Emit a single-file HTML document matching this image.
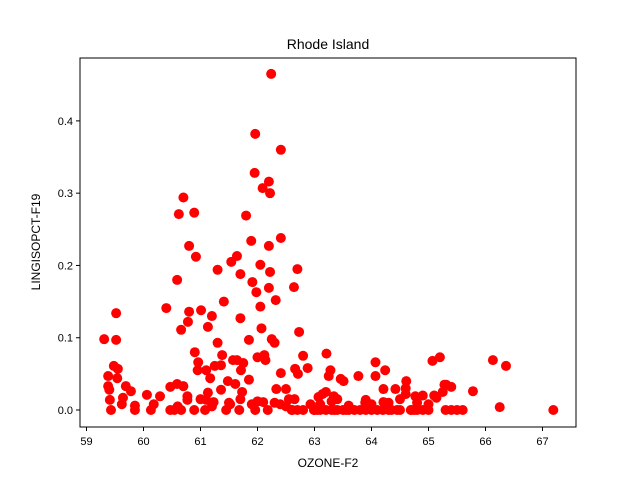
<!DOCTYPE html>
<html><head><meta charset="utf-8"><style>
body{margin:0;background:#fff}
svg{font-family:"Liberation Sans","DejaVu Sans",sans-serif}
</style></head><body>
<svg id="chart" width="640" height="480">
<rect width="640" height="480" fill="#fff"/>
<text x="328" y="49" font-size="14" text-anchor="middle">Rhode Island</text>
<text x="328" y="467" font-size="12" text-anchor="middle">OZONE-F2</text>
<text transform="translate(40,242) rotate(-90)" font-size="12" text-anchor="middle">LINGISOPCT-F19</text>
<g id="ticks"></g>
<g id="points"></g>
<rect x="80" y="58" width="496" height="369" fill="none" stroke="#000" stroke-width="1"/>
</svg>
<script>
const xTicks=[59,60,61,62,63,64,65,66,67];
const yTicks=[0.0,0.1,0.2,0.3,0.4];
const yTickLabels=["0.0","0.1","0.2","0.3","0.4"];
const xs=[59.31,59.38,59.38,59.40,59.41,59.43,59.48,59.52,59.52,59.55,59.54,59.62,59.64,59.69,59.78,59.85,59.85,60.06,60.13,60.18,60.29,60.40,60.47,60.47,60.54,60.59,60.59,60.62,60.66,60.66,60.70,60.70,60.77,60.77,60.80,60.78,60.80,60.89,60.92,60.90,60.89,60.95,60.96,61.01,61.08,61.10,61.10,61.13,61.13,61.17,61.20,61.23,61.25,61.30,61.30,61.36,61.36,61.38,61.41,61.45,61.48,61.52,61.54,61.57,61.61,61.64,61.64,61.68,61.70,61.70,61.71,61.75,61.73,61.80,61.85,61.85,61.89,61.91,61.96,61.95,61.96,61.98,62.00,62.05,62.05,62.07,62.09,62.12,62.10,62.14,62.18,62.20,62.22,62.20,62.20,62.22,62.25,62.24,62.30,62.32,62.33,62.41,62.41,62.41,62.50,62.55,62.61,62.64,62.66,62.70,62.71,62.73,62.80,62.88,62.93,62.99,63.07,63.14,63.21,63.25,63.28,63.34,63.46,63.51,63.77,63.89,64.07,64.07,64.21,64.24,64.21,64.42,64.60,64.61,64.69,64.77,65.07,65.14,65.20,65.28,65.31,65.40,65.78,66.13,66.25,66.36,67.19,
62.6,62.7,62.8,63.0,63.05,63.1,63.2,63.3,63.35,63.4,63.5,63.55,63.6,63.7,63.8,63.9,64.0,64.1,64.2,64.3,64.35,64.45,64.5,64.7,64.75,64.8,64.9,65.0,65.3,65.4,65.5,65.6,
63.1,63.3,63.6,63.9,64.0,64.3,64.5,64.8,65.0,65.1,63.2,63.4,62.5,62.65,62.4,64.6,64.9,65.25,61.5,61.7,61.9,62.0,62.3,61.2,61.0,60.6];
const ys=[.098,.047,.033,.028,.014,0,.061,.097,.134,.057,.044,.008,.017,.033,.026,0,.006,.021,0,.008,.019,.141,0,.032,0,.036,.18,.271,0,.111,.033,.294,.019,.014,.227,.122,.136,.273,.212,.080,0,.055,.066,.138,0,.014,.055,.115,.024,.044,.130,.011,.061,.194,.093,.028,.062,.076,.150,0,.040,.008,.205,.069,.036,.213,.069,0,.188,.127,.055,.065,.025,.269,.042,.097,.234,.177,.382,.328,0,.163,.073,.201,.143,.113,.307,.076,.011,.069,0,.316,.300,.227,.169,.191,.098,.465,.093,.152,.029,.360,.238,.051,.029,.015,0,.170,.057,.195,.050,.108,.075,.058,.008,0,.018,.022,.078,.047,.055,.019,.043,.040,.047,.010,.066,.047,.029,.055,.011,.029,.030,.040,0,.019,.068,.017,.073,.035,.035,.032,.026,.069,.004,.061,0,
0,0,0,0,0,0,0,0,0,0,0,0,0,0,0,0,0,0,0,0,0,0,0,0,0,0,0,0,0,0,0,0,
.008,.012,.006,.014,.008,.01,.015,.01,.008,.02,.025,.015,.005,.015,.008,.022,.02,.025,.01,.015,.008,.012,.01,.005,.015,.005];
const X0=80,X1=576,Y0=427,Y1=58,xmin=58.886,xmax=67.588,ymin=-0.0235,ymax=0.487;
const sx=v=>X0+(v-xmin)/(xmax-xmin)*(X1-X0);
const sy=v=>Y0-(v-ymin)/(ymax-ymin)*(Y0-Y1);
const NS="http://www.w3.org/2000/svg";
const tg=document.getElementById('ticks'),pg=document.getElementById('points');
xTicks.forEach(t=>{
 const l=document.createElementNS(NS,'line');l.setAttribute('x1',sx(t));l.setAttribute('x2',sx(t));l.setAttribute('y1',427);l.setAttribute('y2',431);l.setAttribute('stroke','#000');
 
 
 tg.appendChild(l);
 const tx=document.createElementNS(NS,'text');tx.setAttribute('x',sx(t));tx.setAttribute('y',445);tx.setAttribute('font-size','11');tx.setAttribute('text-anchor','middle');tx.textContent=t;
 
 
 tg.appendChild(tx);
});
yTicks.forEach((t,i)=>{
 const l=document.createElementNS(NS,'line');l.setAttribute('x1',76);l.setAttribute('x2',80);l.setAttribute('y1',sy(t));l.setAttribute('y2',sy(t));l.setAttribute('stroke','#000');
 
 
 tg.appendChild(l);
 const tx=document.createElementNS(NS,'text');tx.setAttribute('x',73);tx.setAttribute('y',sy(t)+4);tx.setAttribute('font-size','11');tx.setAttribute('text-anchor','end');tx.textContent=yTickLabels[i];
 
 
 tg.appendChild(tx);
});
xs.forEach((x,i)=>{
 const c=document.createElementNS(NS,'circle');c.setAttribute('cx',sx(x));c.setAttribute('cy',sy(ys[i]));c.setAttribute('r',5);c.setAttribute('fill','#ff0000');
 
 
 pg.appendChild(c);
});
</script>
</body></html>
